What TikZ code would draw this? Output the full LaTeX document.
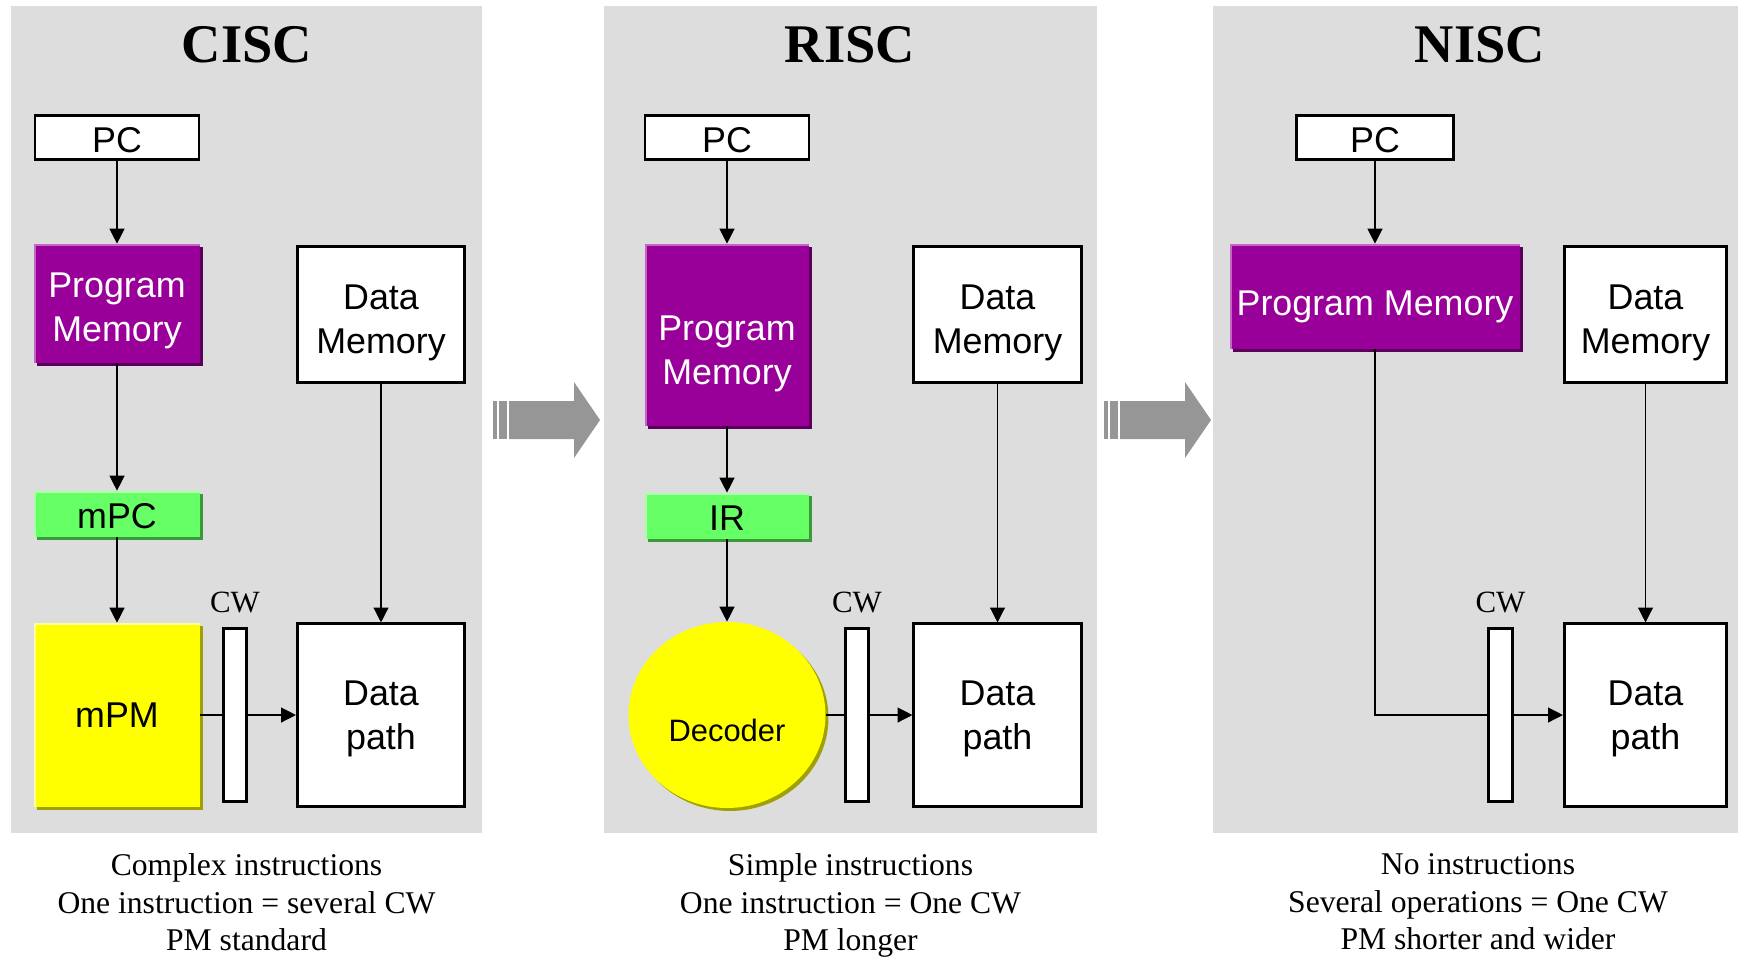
\documentclass[tikz,border=0pt]{standalone}
\usepackage{fontspec}
\setmainfont{Liberation Serif}
\newfontfamily\arialfont{Liberation Sans}
\usetikzlibrary{arrows.meta, positioning, shapes.geometric, shadows}

\definecolor{panelgray}{HTML}{DDDDDD}
\definecolor{bigarrow}{HTML}{969696}
\definecolor{pmfill}{HTML}{990099}
\definecolor{pmdark}{HTML}{5A005A}
\definecolor{pmlight}{HTML}{C466C4}
\definecolor{regfill}{HTML}{66FF66}
\definecolor{regdark}{HTML}{3A9A3A}
\definecolor{reglight}{HTML}{A8FFA8}
\definecolor{upmfill}{HTML}{FFFF00}
\definecolor{upmdark}{HTML}{A0A000}
\definecolor{upmlight}{HTML}{FFFF99}

\begin{document}
\begin{tikzpicture}[
    x=0.02cm, y=-0.02cm,
    title/.style={font=\fontsize{31}{36}\selectfont\bfseries, anchor=base, inner sep=0},
    caption/.style={font=\fontsize{18}{21.5}\selectfont, align=center, anchor=north, inner sep=0},
    cwlbl/.style={font=\fontsize{17.6}{20}\selectfont, inner sep=0},
    wire/.style={line width=0.75pt},
    flow/.style={wire, -{Triangle[length=8.5pt, width=8.5pt]}},
    boxtxt/.style={font=\arialfont\fontsize{20.4}{25}\selectfont, align=center, inner sep=0},
    oneline/.style={text height=17pt, text depth=0pt},
    plainbox/.style={boxtxt, draw, line width=1.5pt, fill=white},
    cwbox/.style={draw, line width=1.5pt, fill=white, inner sep=0,
        minimum width=0.47cm, minimum height=3.45cm},
    shaded/.style n args={3}{boxtxt, fill=#1, draw=none,
        drop shadow={shadow xshift=1.7pt, shadow yshift=-1.7pt, fill=#2, opacity=1},
        path picture={\draw[line width=2.2pt, #3]
            (path picture bounding box.south west) |- (path picture bounding box.north east);}},
    pmbox/.style={shaded={pmfill}{pmdark}{pmlight}, text=white},
    regbox/.style={shaded={regfill}{regdark}{reglight}},
    upmbox/.style={shaded={upmfill}{upmdark}{upmlight}},
]
\useasboundingbox (0,0) rectangle (1738,958);

% --- grey panels ---
\fill[panelgray] (11,6) rectangle (482,833);
\fill[panelgray] (604,6) rectangle (1097,833);
\fill[panelgray] (1213,6) rectangle (1738,833);

% --- block arrows between the panels ---
\foreach \dx in {0,611} {
    \fill[bigarrow] (493+\dx,401) rectangle (497+\dx,439);
    \fill[bigarrow] (499+\dx,401) rectangle (507+\dx,439);
    \fill[bigarrow] (509+\dx,401) -- (574+\dx,401) -- (574+\dx,382) -- (600+\dx,420)
        -- (574+\dx,458) -- (574+\dx,439) -- (509+\dx,439) -- cycle;
}

% === CISC ===
\node[title] (tcisc) at (247,62) {CISC};
\node[plainbox, oneline, minimum width=3.28cm, minimum height=0.88cm] (pc1) at (117,137.5) {PC};
\node[pmbox, minimum width=3.32cm, minimum height=2.38cm, text height=47pt] (pm1) at (117,303.5) {Program\\Memory};
\node[plainbox, minimum width=3.35cm, minimum height=2.73cm, text height=48.4pt] (dm1) at (381,314.5) {Data\\Memory};
\node[regbox, oneline, minimum width=3.32cm, minimum height=0.92cm] (mpc) at (117,514) {mPC};
\node[upmbox, minimum width=3.32cm, minimum height=3.68cm] (mpm) at (117,715) {mPM};
\node[cwbox] (cw1) at (235,715) {};
\node[cwlbl, above=8pt of cw1] (cwl1) {CW};
\node[plainbox, minimum width=3.35cm, minimum height=3.65cm, text height=43.3pt] (dp1) at (381,715) {Data\\path};
\node[caption] (cap1) at (246.5,853) {Complex instructions\\One instruction = several CW\\PM standard};

\draw[flow] (pc1) -- (pm1);
\draw[flow] (pm1) -- (mpc);
\draw[flow] (mpc) -- (mpm);
\draw[flow] (dm1) -- (dp1);
\draw[wire] (mpm) -- (cw1);
\draw[flow] (cw1) -- (dp1);

% === RISC ===
\node[title] (trisc) at (850,62) {RISC};
\node[plainbox, oneline, minimum width=3.28cm, minimum height=0.88cm] (pc2) at (727,137.5) {PC};
\node[pmbox, minimum width=3.28cm, minimum height=3.64cm, text height=60.6pt] (pm2) at (727,335) {Program\\Memory};
\node[plainbox, minimum width=3.35cm, minimum height=2.73cm, text height=48.4pt] (dm2) at (997.5,314.5) {Data\\Memory};
\node[regbox, text height=16pt, text depth=0pt, minimum width=3.28cm, minimum height=0.92cm] (ir) at (727,516) {IR};
\node[ellipse, fill=upmfill, inner sep=0, minimum width=3.94cm, minimum height=3.72cm,
      drop shadow={shadow xshift=1.7pt, shadow yshift=-1.7pt, fill=upmdark, opacity=1},
      font=\arialfont\fontsize{17.6}{20}\selectfont, text height=30.6pt, text depth=0pt] (dec) at (727,715) {Decoder};
\node[cwbox] (cw2) at (857,715) {};
\node[cwlbl, above=8pt of cw2] (cwl2) {CW};
\node[plainbox, minimum width=3.35cm, minimum height=3.65cm, text height=43.3pt] (dp2) at (997.5,715) {Data\\path};
\node[caption] (cap2) at (850.5,853) {Simple instructions\\One instruction = One CW\\PM longer};

\draw[flow] (pc2) -- (pm2);
\draw[flow] (pm2) -- (ir);
\draw[flow] (ir) -- (dec);
\draw[flow] (dm2) -- (dp2);
\draw[wire] (dec) -- (cw2);
\draw[flow] (cw2) -- (dp2);

% === NISC ===
\node[title] (tnisc) at (1480,62) {NISC};
\node[plainbox, oneline, minimum width=3.13cm, minimum height=0.88cm] (pc3) at (1375,137.5) {PC};
\node[pmbox, text height=22pt, text depth=0pt, minimum width=5.8cm, minimum height=2.1cm] (pm3) at (1375,296.5) {Program Memory};
\node[plainbox, minimum width=3.25cm, minimum height=2.73cm, text height=48.4pt] (dm3) at (1645.5,314.5) {Data\\Memory};
\node[cwbox] (cw3) at (1500.5,715) {};
\node[cwlbl, above=8pt of cw3] (cwl3) {CW};
\node[plainbox, minimum width=3.25cm, minimum height=3.65cm, text height=43.3pt] (dp3) at (1645.5,715) {Data\\path};
\node[caption] (cap3) at (1478,853) {No instructions\\Several operations = One CW\\PM shorter and wider};

\draw[flow] (pc3) -- (pm3);
\draw[wire] (pm3) |- (cw3);
\draw[flow] (cw3) -- (dp3);
\draw[flow] (dm3) -- (dp3);
\end{tikzpicture}
\end{document}
